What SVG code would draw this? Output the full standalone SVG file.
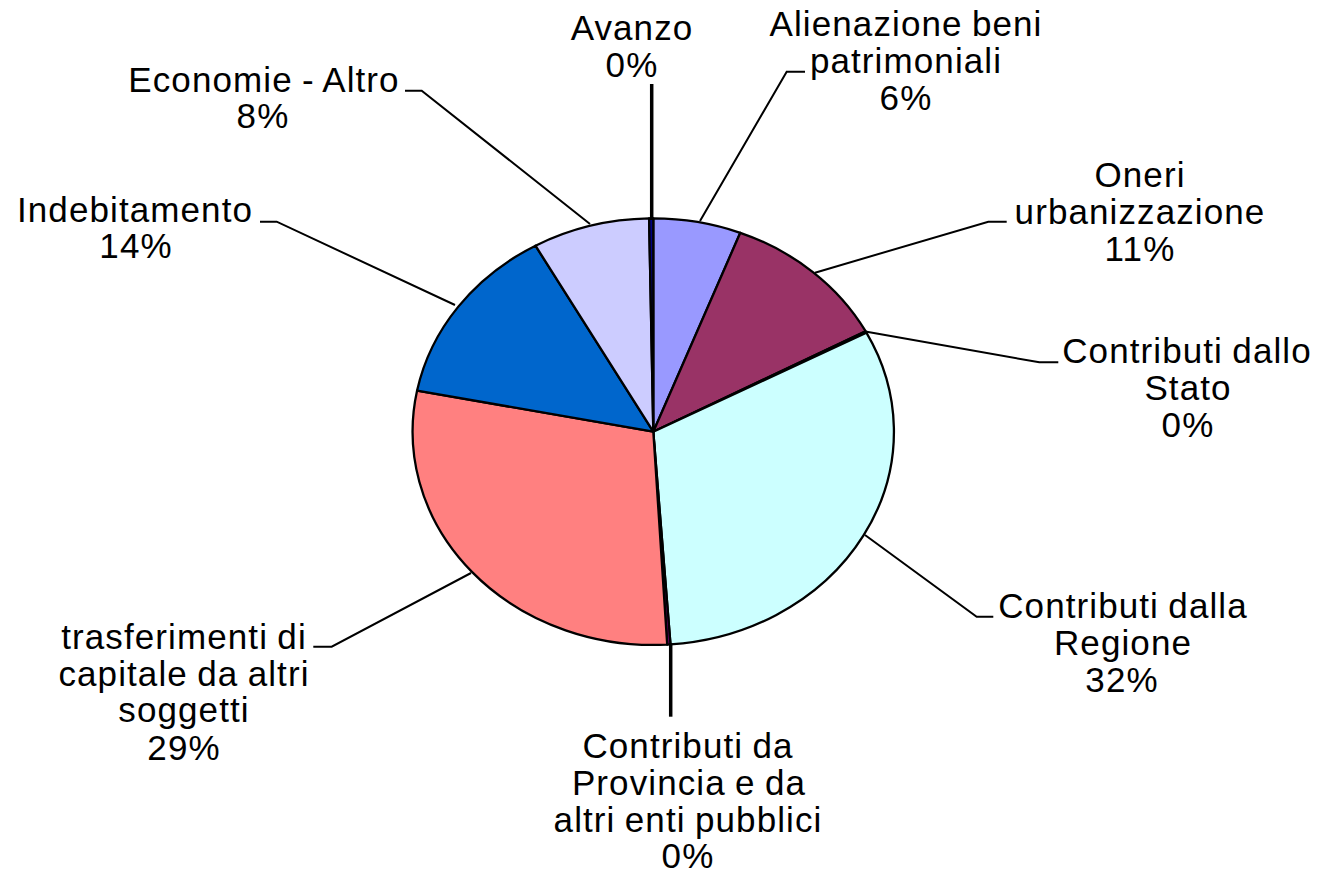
<svg xmlns="http://www.w3.org/2000/svg" width="1321" height="874" viewBox="0 0 1321 874">
<style>
.sl{stroke:#000;stroke-width:2.3;stroke-linejoin:round}
.ld{fill:none;stroke:#000;stroke-width:2}
.ldt{fill:none;stroke:#000;stroke-width:3.5}
text{font-family:"Liberation Sans",Arial,sans-serif;font-size:35px;fill:#000;text-anchor:middle;letter-spacing:1.1px;word-spacing:-1.5px}
</style>
<rect width="1321" height="874" fill="#fff"/>
<g id="pie">
<path id="s-alienazione" class="sl" fill="#9999FF" d="M653.3,431.7 L653.3,218.4 A240.7,213.3 0 0,1 740.3,232.8 Z"/>
<path id="s-oneri" class="sl" fill="#993366" d="M653.3,431.7 L740.3,232.8 A240.7,213.3 0 0,1 865.6,331.2 Z"/>
<path id="s-stato" class="sl" fill="#FFFFCC" d="M653.3,431.7 L865.6,331.2 A240.7,213.3 0 0,1 866.4,332.6 Z"/>
<path id="s-regione" class="sl" fill="#CCFFFF" d="M653.3,431.7 L866.4,332.6 A240.7,213.3 0 0,1 670.5,644.4 Z"/>
<path id="s-provincia" class="sl" fill="#660066" d="M653.3,431.7 L670.5,644.4 A240.7,213.3 0 0,1 667.2,644.6 Z"/>
<path id="s-trasferimenti" class="sl" fill="#FF8080" d="M653.3,431.7 L667.2,644.6 A240.7,213.3 0 0,1 417.1,390.6 Z"/>
<path id="s-indebitamento" class="sl" fill="#0066CC" d="M653.3,431.7 L417.1,390.6 A240.7,213.3 0 0,1 535.5,245.7 Z"/>
<path id="s-economie" class="sl" fill="#CCCCFF" d="M653.3,431.7 L535.5,245.7 A240.7,213.3 0 0,1 649.1,218.4 Z"/>
<path id="s-avanzo" class="sl" fill="#000080" d="M653.3,431.7 L649.1,218.4 A240.7,213.3 0 0,1 653.3,218.4 Z"/>
</g>
<g id="connectors">
<polyline class="ldt" points="651.7,84 651.7,220"/>
<polyline class="ld" points="805,71.7 786.7,71.7 700,221"/>
<polyline class="ld" points="1006.7,221.7 988.3,221.7 815,272.7"/>
<polyline class="ld" points="1058.3,362.3 1039.3,362.3 866.7,331.7"/>
<polyline class="ld" points="993.3,616.7 976.7,616.7 865,535"/>
<polyline class="ldt" points="670.7,643 670.7,716.7"/>
<polyline class="ld" points="313.3,646.7 331.7,646.7 471,573"/>
<polyline class="ld" points="260,221.7 276.7,221.7 455,305"/>
<polyline class="ld" points="405,90.7 421.7,90.7 590,224"/>
</g>
<g id="label-avanzo"><text x="632" y="40">Avanzo</text><text x="632" y="77">0%</text></g>
<g id="label-alienazione"><text x="906" y="36">Alienazione beni</text><text x="906" y="73">patrimoniali</text><text x="906" y="110">6%</text></g>
<g id="label-oneri"><text x="1140" y="187">Oneri</text><text x="1140" y="224">urbanizzazione</text><text x="1140" y="261">11%</text></g>
<g id="label-stato"><text x="1187" y="363">Contributi dallo</text><text x="1188" y="400">Stato</text><text x="1188" y="437">0%</text></g>
<g id="label-regione"><text x="1123" y="618">Contributi dalla</text><text x="1123" y="655">Regione</text><text x="1122" y="692">32%</text></g>
<g id="label-provincia"><text x="688" y="758">Contributi da</text><text x="689" y="795">Provincia e da</text><text x="688" y="832">altri enti pubblici</text><text x="688" y="868">0%</text></g>
<g id="label-trasferimenti"><text x="184" y="649">trasferimenti di</text><text x="184" y="686">capitale da altri</text><text x="184" y="722">soggetti</text><text x="184" y="760">29%</text></g>
<g id="label-indebitamento"><text x="135" y="222">Indebitamento</text><text x="136" y="258">14%</text></g>
<g id="label-economie"><text x="264" y="92">Economie - Altro</text><text x="263" y="128">8%</text></g>
</svg>
